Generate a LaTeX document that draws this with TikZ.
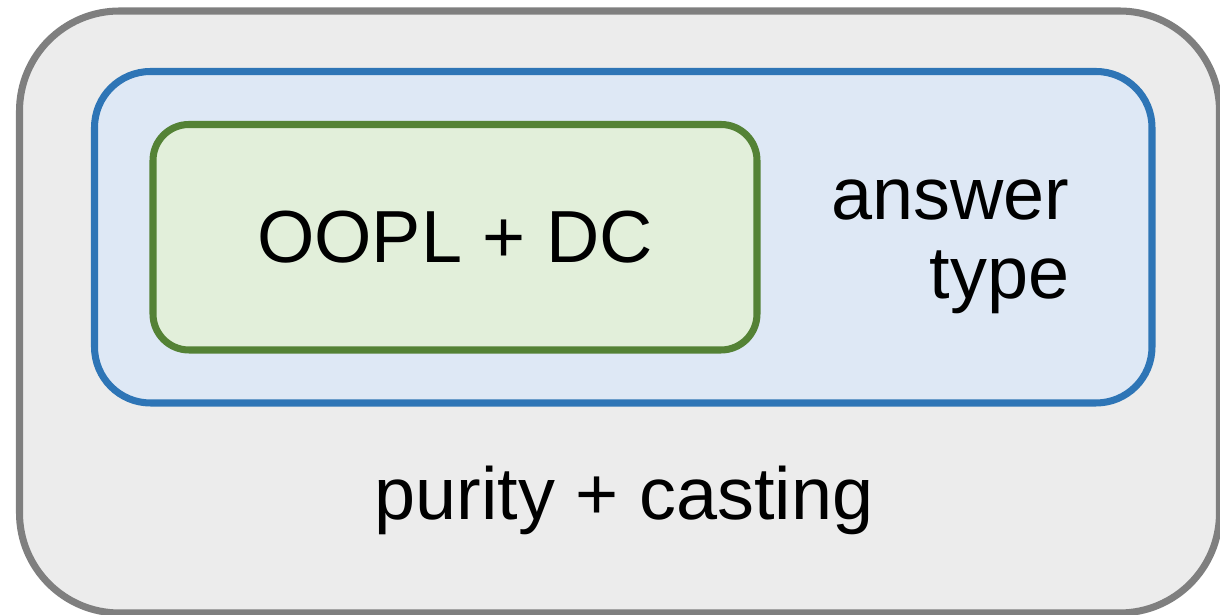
\documentclass[tikz,border=0pt]{standalone}
\usepackage{fontspec}
\setmainfont{Liberation Sans}
\usepackage{tikz}
\usetikzlibrary{positioning}
\usepackage{xcolor}
\definecolor{outerfill}{HTML}{ECECEC}
\definecolor{outerline}{HTML}{7F7F7F}
\definecolor{midfill}{HTML}{DEE8F5}
\definecolor{midline}{HTML}{2E75B6}
\definecolor{corefill}{HTML}{E2EFDA}
\definecolor{coreline}{HTML}{548235}

\begin{document}
\begin{tikzpicture}[
        layer/.style={draw, line width=2pt, inner sep=0pt, align=center, font=\fontsize{21}{22.5}\selectfont},
        lbl/.style={inner sep=0pt, font=\fontsize{21}{22.5}\selectfont}
    ]
        \useasboundingbox (0,0) rectangle (12.2,6.15);
        \node[layer, fill=outerfill, draw=outerline, rounded corners=1cm,
              minimum width=12.0cm, minimum height=6.02cm] (purity) at (6.195,3.03) {};
        \node[layer, fill=midfill, draw=midline, rounded corners=0.56cm,
              minimum width=10.575cm, minimum height=3.315cm] (answer) at (6.2325,3.7775) {};
        \node[layer, fill=corefill, draw=coreline, rounded corners=0.36cm,
              minimum width=6.04cm, minimum height=2.255cm] (core) at (4.55,3.7775) {OOPL + DC};
        \node[lbl, align=right, anchor=base east] (anslbl) at (10.70,3.16) {answer\\type};
        \node[lbl, anchor=base] (purlbl) at (6.24,0.95) {purity + casting};
    \end{tikzpicture}
\end{document}
